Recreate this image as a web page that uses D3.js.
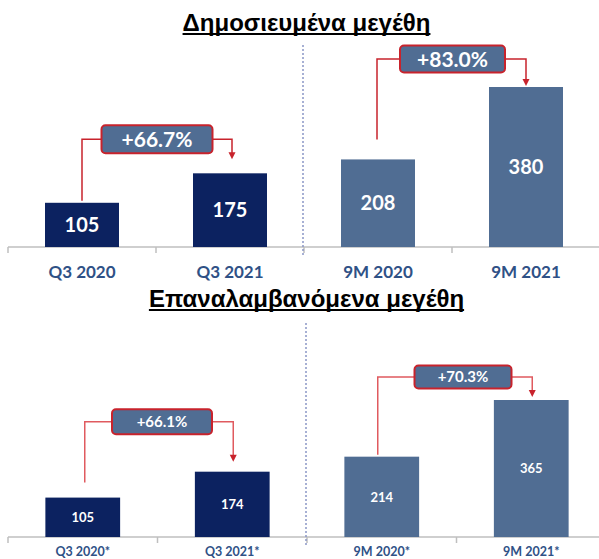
<!DOCTYPE html>
<html>
<head>
<meta charset="utf-8">
<script src="https://cdn.jsdelivr.net/npm/d3@7"></script>
<style>
  body { margin: 0; background: #fff; }
  svg { display: block; }
</style>
</head>
<body>
<div id="chart"></div>
<script>
// data
const titles = ["Δημοσιευμένα μεγέθη", "Επαναλαμβανόμενα μεγέθη"];
const topCats = ["Q3 2020", "Q3 2021", "9M 2020", "9M 2021"];
const topVals = [105, 175, 208, 380];
const topChanges = ["+66.7%", "+83.0%"];
const botCats = ["Q3 2020*", "Q3 2021*", "9M 2020*", "9M 2021*"];
const botVals = [105, 174, 214, 365];
const botChanges = ["+66.1%", "+70.3%"];

const W = 599, H = 559;
const navy = "#0c2260", steel = "#506d93", red = "#c8232c";

const svg = d3.select("#chart").append("svg")
    .attr("width", W)
    .attr("height", H);

function drawTitle(text, y) {
    const t = svg.append("text")
        .attr("x", W / 2 + 7)
        .attr("y", y)
        .attr("text-anchor", "middle")
        .style("font-family", "'Liberation Sans', Arial, sans-serif")
        .style("font-weight", "bold")
        .style("font-size", "24px")
        .style("fill", "#000")
        .text(text);
    const bb = t.node().getBBox();
    svg.append("line")
        .attr("x1", bb.x).attr("x2", bb.x + bb.width)
        .attr("y1", y + 3).attr("y2", y + 3)
        .attr("stroke", "#000")
        .attr("stroke-width", 2);
}

// opts: layout for one half of the page
function drawPanel(cats, vals, changes, o) {
    const x = d3.scaleBand()
        .domain(cats)
        .range(o.xRange)
        .paddingInner(0.5)
        .paddingOuter(0.25);
    const y = d3.scaleLinear()
        .domain([0, d3.max(vals)])
        .range([o.base, o.top]);

    // axis line with ticks at band boundaries
    svg.append("line")
        .attr("x1", 8).attr("x2", W)
        .attr("y1", o.base).attr("y2", o.base)
        .attr("stroke", "#bfbfbf")
        .attr("stroke-width", 1.5);
    const step = x.step();
    d3.range(4).forEach(i => {
        const tx = o.xRange[0] + i * step;
        svg.append("line")
            .attr("x1", tx).attr("x2", tx)
            .attr("y1", o.base).attr("y2", o.base + 6)
            .attr("stroke", "#bfbfbf")
            .attr("stroke-width", 1.5);
    });

    // divider
    svg.append("line")
        .attr("x1", o.divX).attr("x2", o.divX)
        .attr("y1", o.divTop).attr("y2", o.base + 10)
        .attr("stroke", "#8a97c6")
        .attr("stroke-width", 1.5)
        .attr("stroke-dasharray", "2,2");

    const data = cats.map((c, i) => ({ c, v: vals[i], i }));

    svg.selectAll(null)
        .data(data)
        .enter()
        .append("rect")
        .attr("x", d => x(d.c))
        .attr("y", d => y(d.v))
        .attr("width", x.bandwidth())
        .attr("height", d => o.base - y(d.v))
        .attr("fill", d => d.i < 2 ? navy : steel);

    svg.selectAll(null)
        .data(data)
        .enter()
        .append("text")
        .attr("x", d => x(d.c) + x.bandwidth() / 2)
        .attr("y", d => (y(d.v) + o.base) / 2)
        .attr("dy", "0.36em")
        .attr("text-anchor", "middle")
        .style("font-family", "Lato, 'Open Sans', sans-serif")
        .style("font-weight", "bold")
        .style("font-size", o.valSize + "px")
        .style("fill", "#fff")
        .text(d => d.v);

    svg.selectAll(null)
        .data(data)
        .enter()
        .append("text")
        .attr("x", d => x(d.c) + x.bandwidth() / 2)
        .attr("y", o.catY)
        .attr("dy", "0.36em")
        .attr("text-anchor", "middle")
        .style("font-family", "Lato, 'Open Sans', sans-serif")
        .style("font-weight", "bold")
        .style("font-size", o.catSize + "px")
        .style("fill", "#2f5186")
        .text(d => d.c);

    // growth brackets
    changes.forEach((ch, k) => {
        const a = data[k * 2], b = data[k * 2 + 1];
        const L = o.brackets[k];
        const x1 = x(a.c) + x.bandwidth() / 2 + L.dx1;
        const x2 = x(b.c) + x.bandwidth() / 2 + L.dx2;
        const ly = y(b.v) - L.rise;
        const g = svg.append("g");
        g.append("path")
            .attr("d", `M${x1},${y(a.v) - L.gap1}V${ly}H${x2}V${y(b.v) - L.gap2 - 6}`)
            .attr("fill", "none")
            .attr("stroke", L.lineColor)
            .attr("stroke-width", 1.5);
        g.append("path")
            .attr("d", `M${x2 - 3.5},${y(b.v) - L.gap2 - 7}L${x2 + 3.5},${y(b.v) - L.gap2 - 7}L${x2},${y(b.v) - L.gap2}Z`)
            .attr("fill", red);
        const cx = (x1 + x2) / 2 + L.boxDx;
        g.append("rect")
            .attr("x", cx - L.boxW / 2)
            .attr("y", ly - L.boxH / 2)
            .attr("width", L.boxW)
            .attr("height", L.boxH)
            .attr("rx", 4)
            .attr("fill", steel)
            .attr("stroke", red)
            .attr("stroke-width", 2);
        g.append("text")
            .attr("x", cx)
            .attr("y", ly)
            .attr("dy", "0.36em")
            .attr("text-anchor", "middle")
            .style("font-family", "Lato, 'Open Sans', sans-serif")
            .style("font-weight", "bold")
            .style("font-size", L.size + "px")
            .style("fill", "#fff")
            .text(ch);
    });
}

drawTitle(titles[0], 31);
drawTitle(titles[1], 307);

drawPanel(topCats, topVals, topChanges, {
    xRange: [8, 600], base: 247, top: 87,
    divX: 303, divTop: 45,
    valSize: 20, catSize: 17, catY: 272,
    brackets: [
        { dx1: 0, dx2: 2, rise: 34, gap1: 2, gap2: 14, boxW: 111, boxH: 28, boxDx: 0, size: 21, lineColor: red },
        { dx1: -1, dx2: 0, rise: 28, gap1: 20, gap2: 1, boxW: 105, boxH: 27, boxDx: 1, size: 21, lineColor: red }
    ]
});

drawPanel(botCats, botVals, botChanges, {
    xRange: [8, 606], base: 537, top: 400,
    divX: 306, divTop: 323,
    valSize: 13, catSize: 12.5, catY: 551,
    brackets: [
        { dx1: 2, dx2: 1, rise: 50, gap1: 15, gap2: 10, boxW: 100, boxH: 25, boxDx: 3, size: 15, lineColor: "#e05a5f" },
        { dx1: -4, dx2: 1, rise: 23, gap1: 2, gap2: 3, boxW: 97, boxH: 23, boxDx: 8, size: 15, lineColor: "#e05a5f" }
    ]
});
</script>
</body>
</html>
